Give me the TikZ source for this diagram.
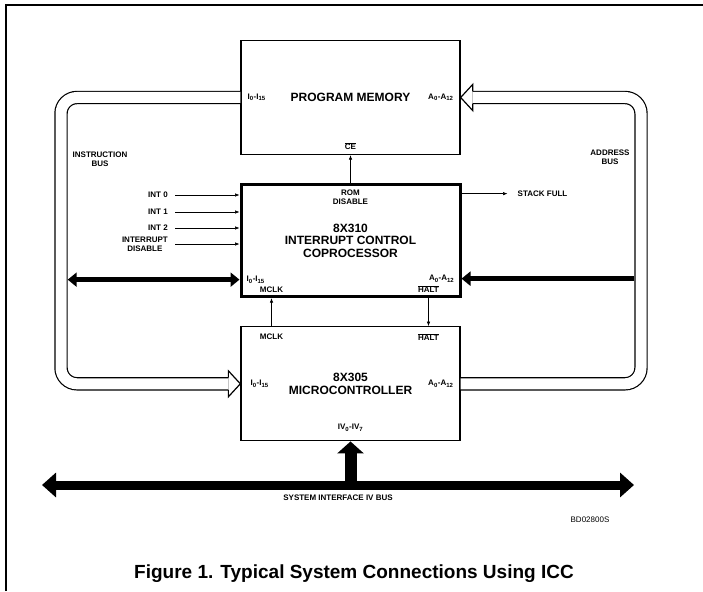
\documentclass[tikz,border=0pt]{standalone}
\usepackage{fontspec}
\setmainfont{Liberation Sans}
\usetikzlibrary{arrows.meta,positioning,calc}

\begin{document}
\begin{tikzpicture}[x=1pt,y=-1pt,
 font=\bfseries\fontsize{12}{12.5}\selectfont,
 blk/.style={draw,line width=1.3pt,minimum width=219pt,minimum height=114pt,align=center,inner sep=0pt},
 icc/.style={blk,line width=3pt,minimum height=112pt},
 lbl/.style={font=\bfseries\fontsize{8}{8.8}\selectfont,inner sep=1pt,align=center},
 ar/.style={-{Latex[length=4.5pt,width=3.5pt]},line width=0.6pt},
 hbus/.style={double,double distance=11pt,line width=1.2pt,rounded corners=16pt},
 hd/.style={line width=1.2pt,line join=miter},
 sbus/.style={line width=5pt},
 bt/.tip={Triangle[length=9pt,width=14pt]},
 st/.tip={Triangle[length=14pt,width=24pt]}]
\useasboundingbox (0,0) rectangle (703,591);
\draw[line width=1.2pt] (6,591) -- (6,5) -- (703,5);
% the three chips
\node[blk] (pm) at (350.5,97.5) {PROGRAM MEMORY};
\node[icc,below=28pt of pm] (icc) {8X310\\INTERRUPT CONTROL\\COPROCESSOR};
\node[blk,below=28pt of icc] (mc) {8X305\\MICROCONTROLLER};
% pin names
\node[lbl,anchor=west] (pmi) at ([xshift=6pt]pm.west) {I\textsubscript{0}-I\textsubscript{15}};
\node[lbl,anchor=east] (pma) at ([xshift=-6pt]pm.east) {A\textsubscript{0}-A\textsubscript{12}};
\node[lbl,anchor=south] (pmce) at ([yshift=4pt]pm.south) {$\overline{\mbox{CE}}$};
\node[lbl,anchor=north] (rom) at ([yshift=-6pt]icc.north) {ROM\\DISABLE};
\node[lbl,anchor=west] (icci) at ([xshift=6pt,yshift=-39pt]icc.west) {I\textsubscript{0}-I\textsubscript{15}};
\node[lbl,anchor=east] (icca) at ([xshift=-6pt,yshift=-38pt]icc.east) {A\textsubscript{0}-A\textsubscript{12}};
\node[lbl,anchor=south] (iccm) at ([xshift=-79pt,yshift=4pt]icc.south) {MCLK};
\node[lbl,anchor=south] (icch) at ([xshift=78pt,yshift=4pt]icc.south) {$\overline{\mbox{HALT}}$};
\node[lbl,anchor=north] (mcm) at ([xshift=-79pt,yshift=-7pt]mc.north) {MCLK};
\node[lbl,anchor=north] (mch) at ([xshift=78pt,yshift=-6pt]mc.north) {$\overline{\mbox{HALT}}$};
\node[lbl,anchor=west] (mci) at ([xshift=9pt]mc.west) {I\textsubscript{0}-I\textsubscript{15}};
\node[lbl,anchor=east] (mca) at ([xshift=-6pt]mc.east) {A\textsubscript{0}-A\textsubscript{12}};
\node[lbl,anchor=south] (mciv) at ([yshift=9pt]mc.south) {IV\textsubscript{0}-IV\textsubscript{7}};
% interrupt inputs
\node[lbl,anchor=east] (int0) at (169,195) {INT 0};
\node[lbl,anchor=east] (int1) at (169,212) {INT 1};
\node[lbl,anchor=east] (int2) at (169,228) {INT 2};
\node[lbl,anchor=east] (intd) at (169,244) {INTERRUPT\\DISABLE};
\node[lbl,anchor=west] (sf) at ([xshift=55pt,yshift=47pt]icc.east) {STACK FULL};
\node[lbl] (ibl) at (100,159) {INSTRUCTION\\BUS};
\node[lbl] (abl) at (610,157) {ADDRESS\\BUS};
\node[lbl] (sib) at (338,498) {SYSTEM INTERFACE IV BUS};
\node[lbl,font=\fontsize{8}{9}\selectfont] (bd) at (590,520) {BD02800S};
\node[font=\bfseries\fontsize{19}{20}\selectfont] (cap) at (354,574) {Figure 1. Typical System Connections Using ICC};
\coordinate (ib) at (61,0);
\coordinate (ab) at (641,0);
\coordinate (ivl) at (42,485);
\coordinate (ivr) at (634,485);
\draw[ar] ([xshift=6pt]int0.east) -- (int0 -| icc.west);
\draw[ar] ([xshift=6pt]int1.east) -- (int1 -| icc.west);
\draw[ar] ([xshift=6pt]int2.east) -- (int2 -| icc.west);
\draw[ar] ([xshift=6pt]intd.east) -- (intd -| icc.west);
\draw[ar] (icc.east |- sf) -- ([xshift=-9pt]sf.west);
\draw[ar] (icc.north) -- (pm.south);
\draw[ar] (mc.north -| mcm) -- (icc.south -| mcm);
\draw[ar] (icc.south -| mch) -- (mc.north -| mch);
% hollow buses
\draw[hbus,shorten >=12pt] (pm.west) -- (ib |- pm.west) -- (ib |- mc.west) -- (mc.west);
\draw[hd] ([xshift=-12pt,yshift=6.1pt]mc.west) -- ([xshift=-12pt,yshift=13pt]mc.west) -- (mc.west)
 -- ([xshift=-12pt,yshift=-13pt]mc.west) -- ([xshift=-12pt,yshift=-6.1pt]mc.west);
\draw[hbus,shorten >=12pt] (mc.east) -- (ab |- mc.east) -- (ab |- pm.east) -- (pm.east);
\draw[hd] ([xshift=12pt,yshift=6.1pt]pm.east) -- ([xshift=12pt,yshift=13pt]pm.east) -- (pm.east)
 -- ([xshift=12pt,yshift=-13pt]pm.east) -- ([xshift=12pt,yshift=-6.1pt]pm.east);
% solid buses
\draw[sbus,bt-bt] ([xshift=6.7pt]ib |- icci) -- (icc.west |- icci);
\draw[sbus,-bt] ([xshift=-6.7pt]ab |- icca) -- (icc.east |- icca);
\draw[line width=9pt,st-st] (ivl) -- (ivr);
\draw[line width=12pt,-{Triangle[length=12pt,width=26pt]}] (mc.south |- ivl) -- (mc.south);
\end{tikzpicture}
\end{document}
